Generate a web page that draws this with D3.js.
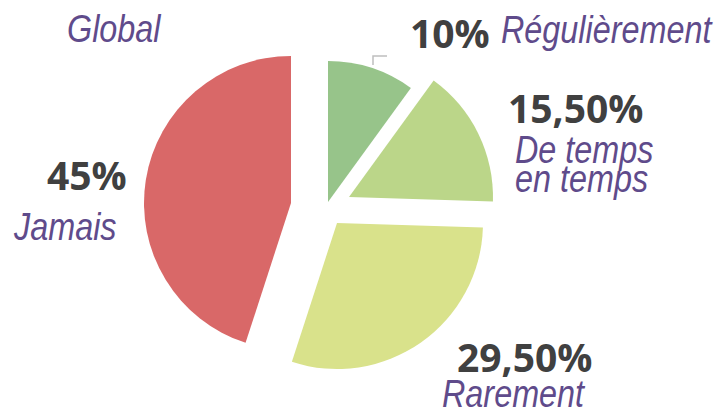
<!DOCTYPE html>
<html>
<head>
<meta charset="utf-8">
<script src="https://cdn.jsdelivr.net/npm/d3@7"></script>
<style>
  html, body { margin: 0; padding: 0; background: #fff; }
  svg { display: block; }
  .cat { font-family: "Liberation Sans", Arial, sans-serif; font-style: italic; font-size: 39px; fill: #5F4B8B; }
  .pct { font-family: "Open Sans", sans-serif; font-weight: 700; font-size: 39px; fill: #404040; }
</style>
</head>
<body>
<svg id="chart" width="718" height="412"></svg>
<script>
// ---- data ----
const categories = ["Régulièrement", "De temps en temps", "Rarement", "Jamais"];
const values = [10, 15.5, 29.5, 45];
const valueLabels = ["10%", "15,50%", "29,50%", "45%"];
const title = "Global";

// ---- layout / style ----
const colors = ["#97C48A", "#BBD689", "#D9E28B", "#D96868"];
const center = [310, 212];
const sliceOffsets = [[18, -10], [39, -15], [27, 11], [-19, -9]];
const sliceRadii = [141, 144, 146, 147];
const catLabelPos = [[[501, 43]], [[515, 163], [515, 192]], [[442, 407]], [[14, 240]]];
const catLabelLines = [["Régulièrement"], ["De temps", "en temps"], ["Rarement"], ["Jamais"]];
const pctLabelPos = [[410, 48], [508, 123], [457, 372], [47, 190]];
const narrow = 0.83; // condensed italic face simulated by horizontal scaling

const svg = d3.select("#chart");

const pie = d3.pie().sort(null).value(d => d).startAngle(0).endAngle(2 * Math.PI);
const arcs = pie(values);

const g = svg.append("g").attr("transform", `translate(${center[0]},${center[1]})`);

g.selectAll("path.slice")
  .data(arcs)
  .join("path")
  .attr("class", "slice")
  .attr("transform", (d, i) => `translate(${sliceOffsets[i][0]},${sliceOffsets[i][1]})`)
  .attr("d", (d, i) => d3.arc().innerRadius(0).outerRadius(sliceRadii[i])(d))
  .attr("fill", (d, i) => colors[i]);

// leader line for the first slice
svg.append("path")
  .attr("d", d3.line()([[373, 65], [373, 56], [387, 56]]))
  .attr("fill", "none")
  .attr("stroke", "#BFBFBF")
  .attr("stroke-width", 1.5);

function catText(x, y, t) {
  svg.append("text").attr("class", "cat")
    .attr("transform", `translate(${x},${y}) scale(${narrow},1)`)
    .text(t);
}

// title
catText(67, 42, title);

// category labels
catLabelLines.forEach((lines, i) => {
  lines.forEach((line, j) => catText(catLabelPos[i][j][0], catLabelPos[i][j][1], line));
});

// value labels
valueLabels.forEach((t, i) => {
  svg.append("text").attr("class", "pct")
    .attr("x", pctLabelPos[i][0]).attr("y", pctLabelPos[i][1])
    .text(t);
});
</script>
</body>
</html>
